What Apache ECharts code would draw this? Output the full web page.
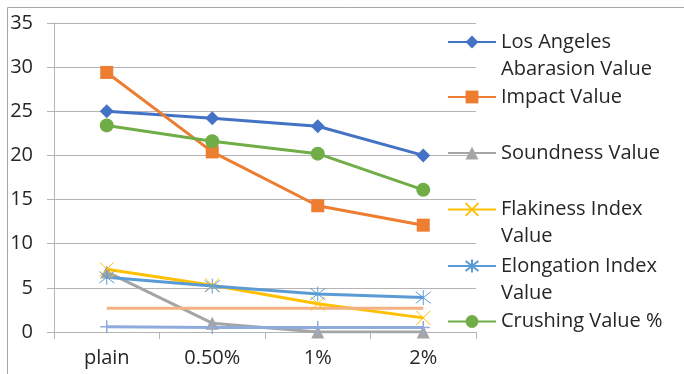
<!DOCTYPE html>
<html>
<head>
<meta charset="utf-8">
<script src="https://cdn.jsdelivr.net/npm/echarts@6/dist/echarts.min.js"></script>
<style>
  html, body { margin: 0; padding: 0; background: #fff; }
  #chart { width: 684px; height: 374px; }
</style>
</head>
<body>
<div id="chart"></div>
<script>
// Aggregate test results by additive dosage
const categories = ['plain', '0.50%', '1%', '2%'];
const yTicks = { min: 0, max: 35, step: 5 };

const losAngeles   = [25.0, 24.2, 23.3, 20.0];
const impact       = [29.4, 20.4, 14.3, 12.1];
const soundness    = [6.8, 1.0, 0, 0];
const flakiness    = [7.1, 5.3, 3.2, 1.6];
const elongation   = [6.2, 5.2, 4.3, 3.9];
const crushing     = [23.4, 21.6, 20.2, 16.1];
const specGravity  = [2.7, 2.7, 2.7, 2.7];
const waterAbs     = [0.6, 0.5, 0.5, 0.5];

const FONT = '"Open Sans", "Liberation Sans", sans-serif';
const TEXT = '#262626';
const GRID = '#B4B4B4';

const crossPath = 'path://M0,0L10,10M10,0L0,10';
const starPath = 'path://M0,0L10,10M10,0L0,10M5,-1.5L5,11.5';
const plusPath = 'path://M5,0L5,10M0,5L10,5';

function line(name, data, color, symbol, size, extra) {
  return Object.assign({
    name: name,
    type: 'line',
    data: data,
    symbol: symbol,
    symbolSize: size,
    showSymbol: symbol !== 'none',
    lineStyle: { color: color, width: 3 },
    itemStyle: { color: color },
    emphasis: { disabled: true },
    animation: false
  }, extra || {});
}

const series = [
  line('Los Angeles Abarasion Value', losAngeles, '#4472C4', 'diamond', 14),
  line('Impact Value', impact, '#ED7D31', 'rect', 13),
  line('Soundness Value', soundness, '#A5A5A5', 'triangle', 13),
  line('Flakiness Index Value', flakiness, '#FFC000', crossPath, 14,
    { itemStyle: { color: '#FFC000', borderColor: '#FFC000', borderWidth: 1 } }),
  line('Elongation Index Value', elongation, '#5B9BD5', starPath, 15,
    { itemStyle: { color: '#5B9BD5', borderColor: '#5B9BD5', borderWidth: 1 } }),
  line('Crushing Value %', crushing, '#70AD47', 'circle', 14),
  line('Specific Gravity', specGravity, '#F4B183', 'none', 0),
  line('Water Absorption %', waterAbs, '#8FAADC', plusPath, 13,
    { itemStyle: { color: '#8FAADC', borderColor: '#8FAADC', borderWidth: 1.5 } })
];

// Legend rows: label text and vertical centre of each icon.
// Wrapped labels get a blank leading line so their first line sits level with the icon.
const legendRows = [
  { name: 'Los Angeles Abarasion Value', text: 'Los Angeles\nAbarasion Value', y: 42 },
  { name: 'Impact Value', text: 'Impact Value', y: 97 },
  { name: 'Soundness Value', text: 'Soundness Value', y: 153 },
  { name: 'Flakiness Index Value', text: 'Flakiness Index\nValue', y: 209.5 },
  { name: 'Elongation Index Value', text: 'Elongation Index\nValue', y: 266 },
  { name: 'Crushing Value %', text: 'Crushing Value %', y: 321.5 }
];
const LH = 27;
const legends = legendRows.map(function (r) {
  const wrapped = r.text.indexOf('\n') >= 0;
  const label = wrapped ? ' \n' + r.text : r.text;
  const lines = label.split('\n').length;
  return {
    left: 447,
    top: r.y - (lines * LH) / 2,
    padding: 0,
    orient: 'vertical',
    itemWidth: 48,
    itemHeight: 16,
    itemGap: 0,
    selectedMode: false,
    data: [r.name],
    formatter: function () { return label; },
    textStyle: { fontFamily: FONT, fontSize: 20, color: TEXT, lineHeight: LH }
  };
});

const chart = echarts.init(document.getElementById('chart'), null, { renderer: 'canvas' });
chart.setOption({
  backgroundColor: '#fff',
  animation: false,
  graphic: [{
    type: 'rect', left: 5, top: 5, silent: true,
    shape: { x: 0, y: 0, width: 720, height: 420 },
    style: { fill: 'none', stroke: '#A6A6A6', lineWidth: 1 }
  }],
  legend: legends,
  grid: { left: 54, right: 208, top: 23, bottom: 42, containLabel: false },
  xAxis: {
    type: 'category',
    data: categories,
    boundaryGap: true,
    axisLine: { lineStyle: { color: GRID, width: 1 } },
    axisTick: { show: true, length: 7, lineStyle: { color: GRID } },
    axisLabel: { fontFamily: FONT, fontSize: 20, color: TEXT, margin: 16 }
  },
  yAxis: {
    type: 'value',
    min: yTicks.min, max: yTicks.max, interval: yTicks.step,
    axisLine: { show: true, lineStyle: { color: GRID, width: 1 } },
    axisTick: { show: true, length: 7, lineStyle: { color: GRID } },
    splitLine: { lineStyle: { color: GRID, width: 1 } },
    axisLabel: { fontFamily: FONT, fontSize: 20, color: TEXT, margin: 21 }
  },
  series: series
});
</script>
</body>
</html>
